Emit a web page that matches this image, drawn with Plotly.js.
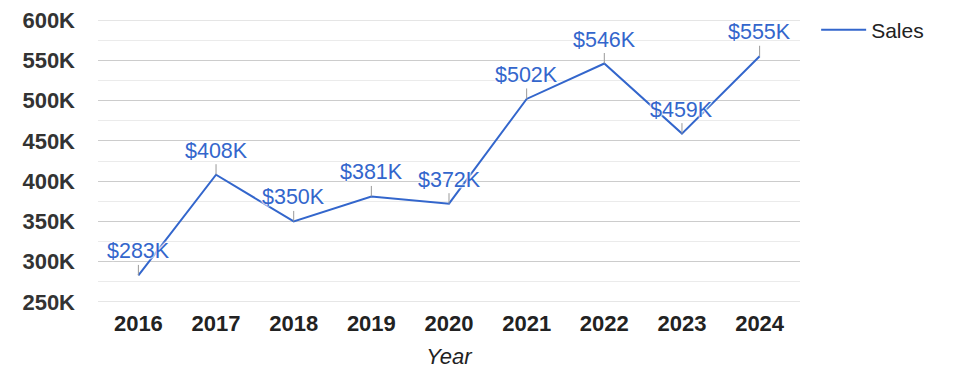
<!DOCTYPE html>
<html>
<head>
<meta charset="utf-8">
<script src="https://cdn.plot.ly/plotly-3.0.1.min.js"></script>
<style>html,body{margin:0;padding:0;background:#fff;}#chart{width:975px;height:378px;}</style>
</head>
<body>
<div id="chart"></div>
<script>
const years = ['2016','2017','2018','2019','2020','2021','2022','2023','2024'];
const sales = [283000, 408000, 350000, 381000, 372000, 502000, 546000, 459000, 555000];
const yTickVals = [250000, 300000, 350000, 400000, 450000, 500000, 550000, 600000];
const yTickText = ['250K','300K','350K','400K','450K','500K','550K','600K'];
const seriesName = 'Sales';
const xTitle = 'Year';

const FONT = 'Arial, "Liberation Sans", sans-serif';
const BLUE = '#3366CC';
const Y_MIN = 250000, Y_MAX = 600000;

const annotations = years.map((y, i) => ({
  x: i, y: sales[i], xref: 'x', yref: 'y',
  text: '$' + Math.round(sales[i] / 1000) + 'K',
  showarrow: true, arrowhead: 0, arrowwidth: 1, arrowcolor: '#999999',
  ax: 0, ay: -24, standoff: 0,
  font: {family: FONT, size: 21.5, color: BLUE,
         shadow: '0 0 2px #fff, 0 0 2px #fff, 0 0 2px #fff, 0 0 3px #fff'}
}));

// gridlines at the axis edges (Plotly hides grid at the range limits)
const edgeShapes = [Y_MIN, Y_MAX].map(v => ({
  type: 'line', xref: 'paper', yref: 'y', x0: 0, x1: 1, y0: v, y1: v,
  line: {color: '#cccccc', width: 1}, layer: 'below'
}));

Plotly.newPlot('chart', [{
  x: years, y: sales, type: 'scatter', mode: 'lines', name: seriesName,
  line: {color: BLUE, width: 2}, hoverinfo: 'skip'
}], {
  width: 975, height: 378,
  margin: {l: 97.5, r: 174.5, t: 19.5, b: 76, pad: 0, autoexpand: false},
  paper_bgcolor: '#fff', plot_bgcolor: '#fff',
  font: {family: FONT},
  showlegend: true,
  legend: {x: 1.023, xanchor: 'left', y: 1.037, yanchor: 'top', itemwidth: 45,
           font: {family: FONT, size: 21, color: '#222'}, bgcolor: 'rgba(0,0,0,0)'},
  xaxis: {
    type: 'category', range: [-0.52, 8.52], showgrid: false, zeroline: false,
    showline: false, ticks: '', ticklabelstandoff: 6, automargin: false,
    tickfont: {family: FONT, size: 22, color: '#222', weight: 'bold'},
    title: {text: xTitle, standoff: 13, font: {family: FONT, size: 22, color: '#222', style: 'italic'}}
  },
  yaxis: {
    range: [Y_MIN, Y_MAX], tickvals: yTickVals, ticktext: yTickText,
    showgrid: true, gridcolor: '#cccccc', gridwidth: 1, zeroline: false, showline: false,
    ticks: '', ticklabelstandoff: 22, automargin: false,
    minor: {dtick: 25000, tick0: Y_MIN, showgrid: true, gridcolor: '#ebebeb', gridwidth: 1},
    tickfont: {family: FONT, size: 22, color: '#333', weight: 'bold'}
  },
  shapes: edgeShapes,
  annotations: annotations
}, {displayModeBar: false, staticPlot: true});
</script>
</body>
</html>
